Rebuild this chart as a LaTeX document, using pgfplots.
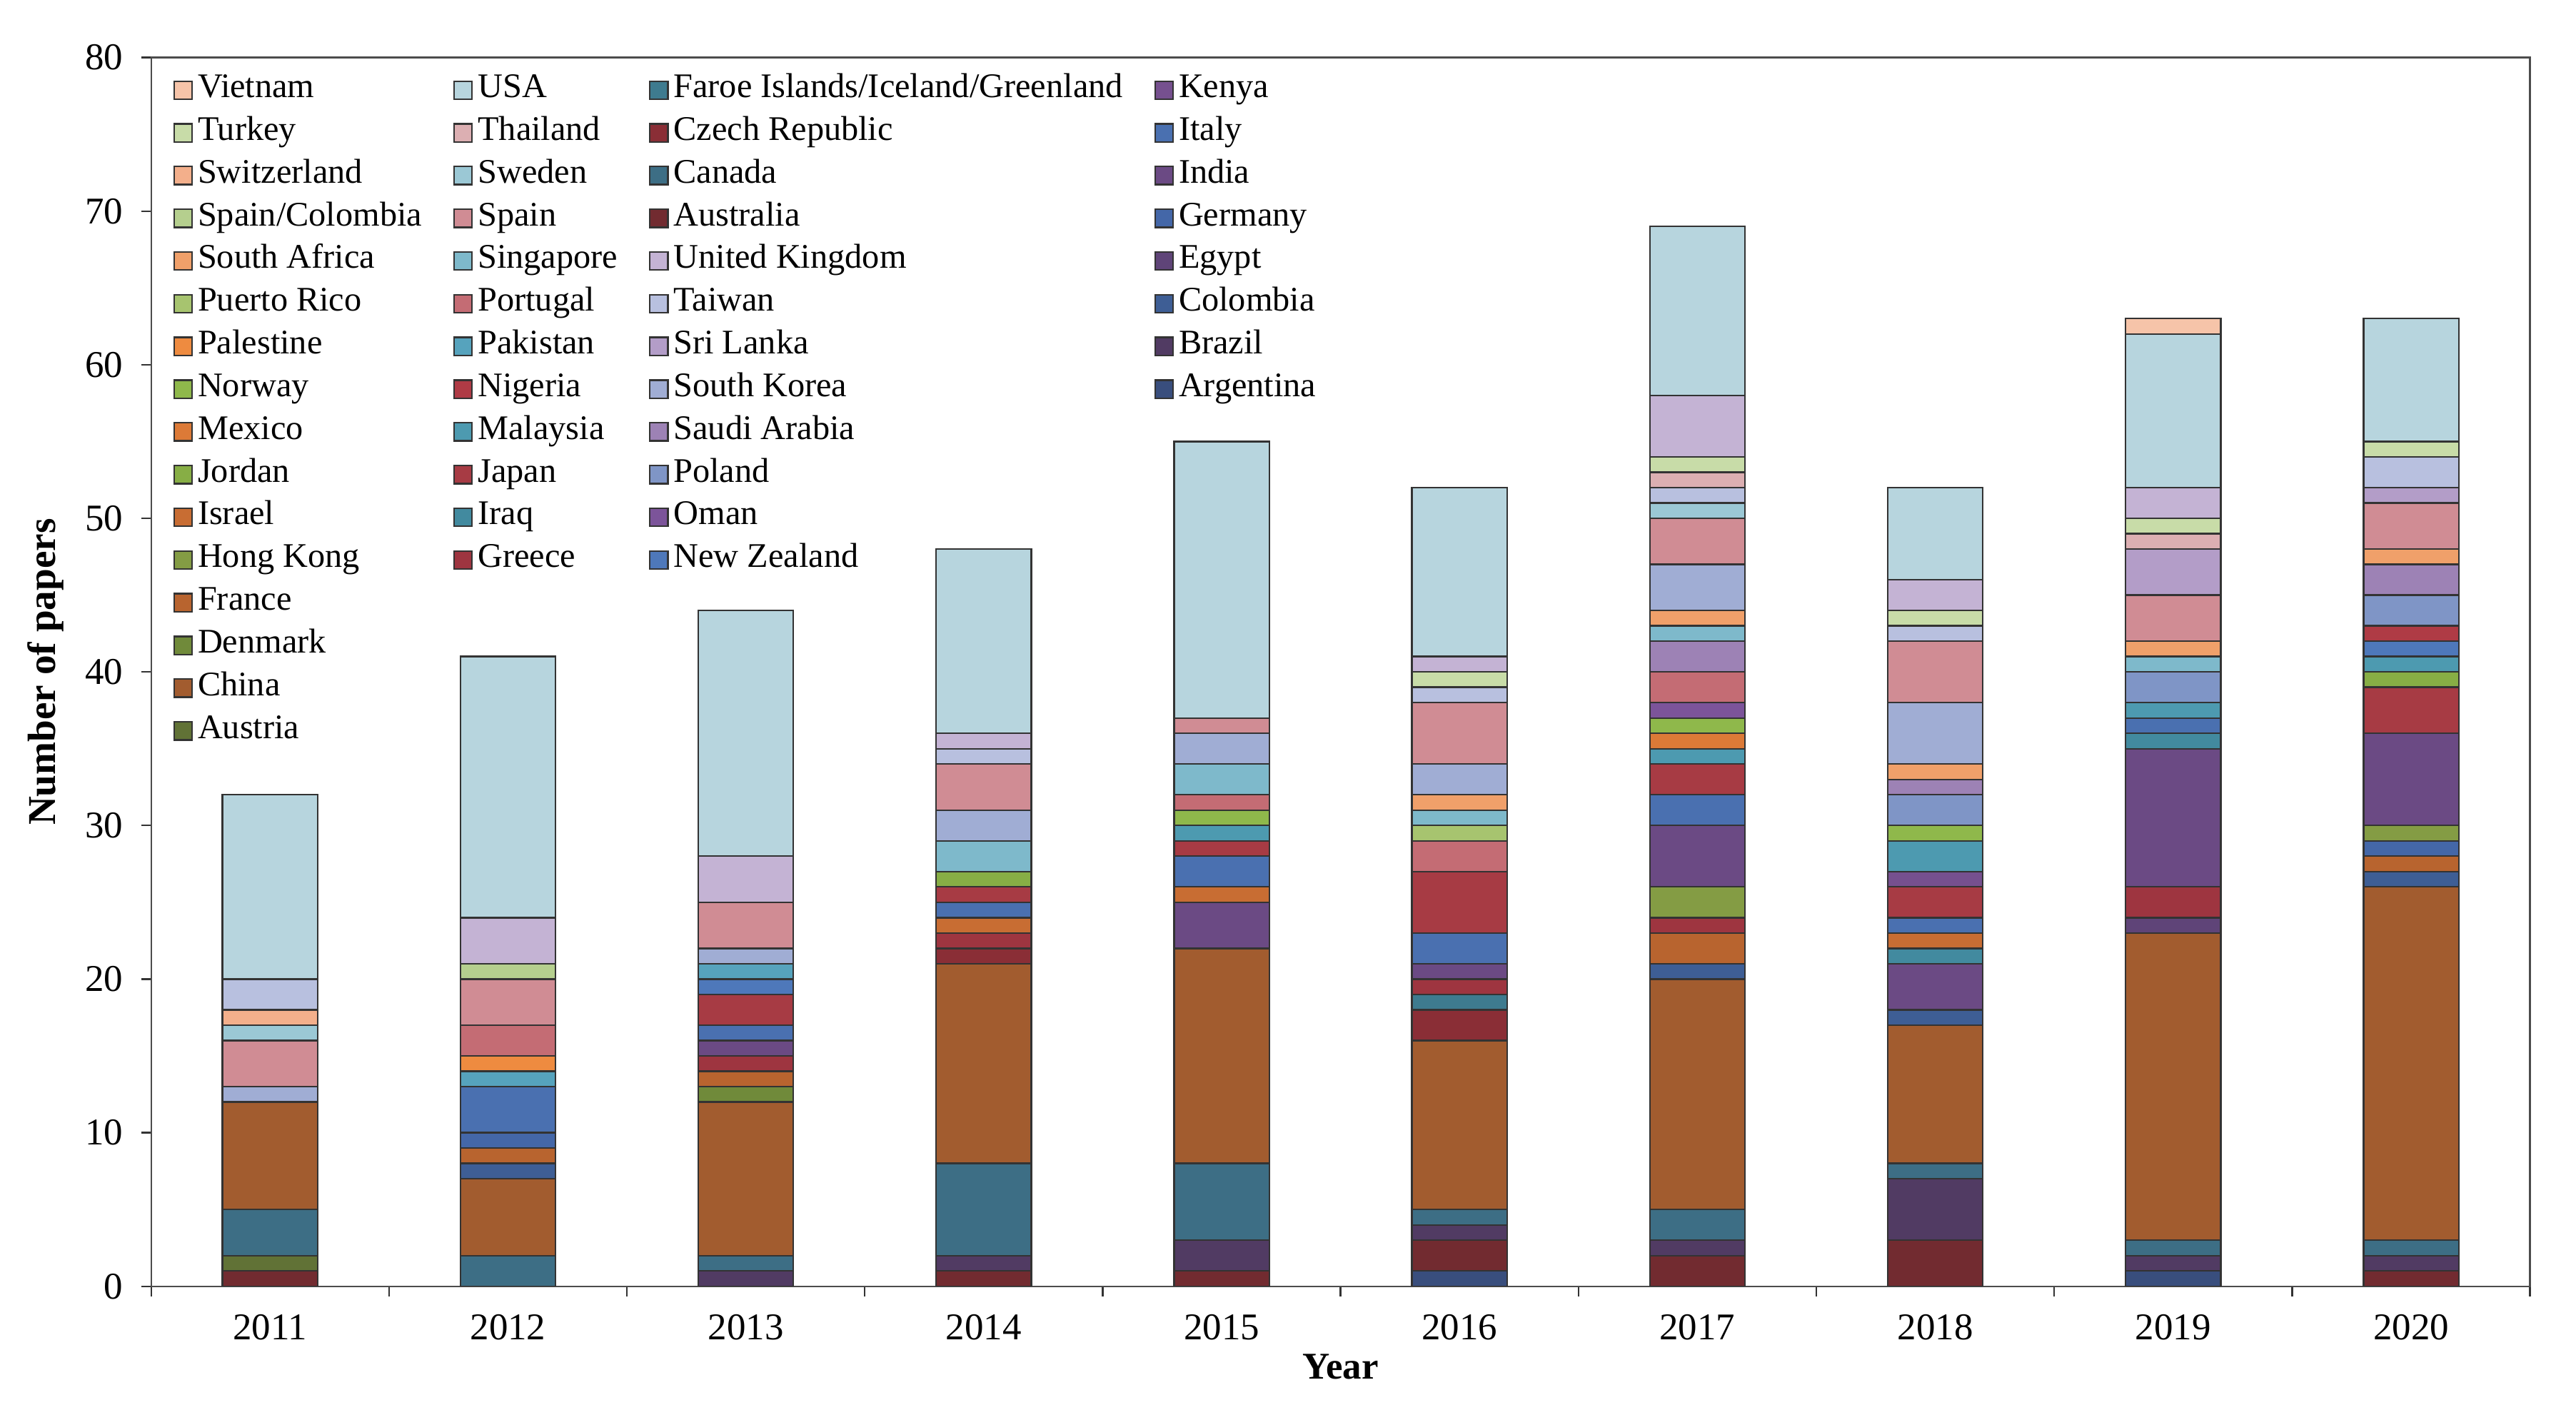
\documentclass[border=0pt]{standalone}
\usepackage{fontspec}
\setmainfont{Liberation Serif}
\usepackage{pgfplots}
\pgfplotsset{compat=1.18}

% colours per country (Excel-like shades)
\definecolor{cArg}{HTML}{394E7D}\definecolor{cAus}{HTML}{722B30}\definecolor{cAut}{HTML}{617236}
\definecolor{cBra}{HTML}{513B63}\definecolor{cCan}{HTML}{3D6E85}\definecolor{cChi}{HTML}{A25C2F}
\definecolor{cCol}{HTML}{3E5E95}\definecolor{cCze}{HTML}{8A2E36}\definecolor{cDen}{HTML}{708A3A}
\definecolor{cEgy}{HTML}{5F4478}\definecolor{cFar}{HTML}{3E7B8F}\definecolor{cFra}{HTML}{B8642F}
\definecolor{cGer}{HTML}{4467A8}\definecolor{cGre}{HTML}{9E3540}\definecolor{cHK}{HTML}{849C44}
\definecolor{cInd}{HTML}{6B4A84}\definecolor{cIrq}{HTML}{428A9F}\definecolor{cIsr}{HTML}{C86D33}
\definecolor{cIta}{HTML}{4A70B0}\definecolor{cJap}{HTML}{A73B44}\definecolor{cJor}{HTML}{87AE45}
\definecolor{cKen}{HTML}{76508F}\definecolor{cMal}{HTML}{4D9AB0}\definecolor{cMex}{HTML}{DC7A37}
\definecolor{cNZ}{HTML}{4E78BA}\definecolor{cNig}{HTML}{AF3B45}\definecolor{cNor}{HTML}{8FB84B}
\definecolor{cOma}{HTML}{7C549A}\definecolor{cPak}{HTML}{56A3BD}\definecolor{cPal}{HTML}{EE8B40}
\definecolor{cPol}{HTML}{7F95C6}\definecolor{cPor}{HTML}{C46C74}\definecolor{cPR}{HTML}{A7C46F}
\definecolor{cSA}{HTML}{9D82B5}\definecolor{cSin}{HTML}{7EB9CB}\definecolor{cSAf}{HTML}{F0A06A}
\definecolor{cSK}{HTML}{A0ADD4}\definecolor{cSpa}{HTML}{D08C94}\definecolor{cSpC}{HTML}{B5CF8E}
\definecolor{cSL}{HTML}{B39DC8}\definecolor{cSwe}{HTML}{9BC8D5}\definecolor{cSwi}{HTML}{F3AF8B}
\definecolor{cTai}{HTML}{B8C0DF}\definecolor{cTha}{HTML}{DCAFB2}\definecolor{cTur}{HTML}{C8DCA8}
\definecolor{cUK}{HTML}{C4B3D4}\definecolor{cUSA}{HTML}{B7D5DE}\definecolor{cVie}{HTML}{F6C4A9}

\pgfplotsset{
  sq legend/.style={legend image code/.code={%
    \draw[draw=black!80, line width=0.5pt, ##1] (0pt,-2.75pt) rectangle (5.5pt,2.75pt);}},
}
\newcommand{\leg}[2]{\addlegendimage{sq legend, fill=#1}\addlegendentry{#2}}
\newcommand{\noleg}{\addlegendimage{empty legend}\addlegendentry{}}

\begin{document}
\begin{tikzpicture}
\begin{axis}[
  name=ax,
  scale only axis, width=724pt, height=374pt,
  ybar stacked, bar width=0.4,
  xmin=-0.5, xmax=9.5, ymin=0, ymax=80,
  xtick={-0.5,0.5,...,9.5}, xticklabels={},
  extra x ticks={0,1,2,3,4,5,6,7,8,9},
  extra x tick labels={2011,2012,2013,2014,2015,2016,2017,2018,2019,2020},
  extra x tick style={major tick length=0pt},
  ytick={0,10,...,80},
  tick align=outside, major tick length=3pt,
  xtick pos=bottom, ytick pos=left,
  axis line style={draw=black!70, line width=0.5pt},
  tick style={draw=black!80, line width=0.5pt},
  /pgf/number format/assume math mode=true,
  tick label style={font=\fontsize{11.5}{13}\selectfont},
  xticklabel style={yshift=-5pt},
  yticklabel style={xshift=-2pt},
  every axis plot/.append style={draw=black!80, line width=0.5pt},
  xlabel={\textbf{Year}},
  ylabel={\textbf{Number of papers}},
  every axis x label/.style={at={(axis description cs:0.5,0)}, yshift=-24.5pt, anchor=center, font=\fontsize{11.5}{13}\selectfont},
  every axis y label/.style={at={(axis description cs:0,0.5)}, xshift=-32pt, rotate=90, anchor=center, font=\fontsize{12}{14}\selectfont},
  legend columns=4,
  legend cell align=left,
  legend style={at={(0,1)}, anchor=north west, xshift=6.5pt, yshift=-5pt,
    draw=none, fill=none, inner xsep=0pt, inner ysep=0pt,
    font=\fontsize{10.5}{12}\selectfont, row sep=3.5pt,
    nodes={inner xsep=1.5pt, inner ysep=0pt, text height=7pt, text depth=2.5pt},
    /tikz/every even column/.append style={column sep=8pt}},
]
% stacked in alphabetical order, years 2011..2020 at x=0..9
\addplot[fill=cArg, forget plot] coordinates {(0,0) (1,0) (2,0) (3,0) (4,0) (5,1) (6,0) (7,0) (8,1) (9,0)};
\addplot[fill=cAus, forget plot] coordinates {(0,1) (1,0) (2,0) (3,1) (4,1) (5,2) (6,2) (7,3) (8,0) (9,1)};
\addplot[fill=cAut, forget plot] coordinates {(0,1) (1,0) (2,0) (3,0) (4,0) (5,0) (6,0) (7,0) (8,0) (9,0)};
\addplot[fill=cBra, forget plot] coordinates {(0,0) (1,0) (2,1) (3,1) (4,2) (5,1) (6,1) (7,4) (8,1) (9,1)};
\addplot[fill=cCan, forget plot] coordinates {(0,3) (1,2) (2,1) (3,6) (4,5) (5,1) (6,2) (7,1) (8,1) (9,1)};
\addplot[fill=cChi, forget plot] coordinates {(0,7) (1,5) (2,10) (3,13) (4,14) (5,11) (6,15) (7,9) (8,20) (9,23)};
\addplot[fill=cCol, forget plot] coordinates {(0,0) (1,1) (2,0) (3,0) (4,0) (5,0) (6,1) (7,1) (8,0) (9,1)};
\addplot[fill=cCze, forget plot] coordinates {(0,0) (1,0) (2,0) (3,1) (4,0) (5,2) (6,0) (7,0) (8,0) (9,0)};
\addplot[fill=cDen, forget plot] coordinates {(0,0) (1,0) (2,1) (3,0) (4,0) (5,0) (6,0) (7,0) (8,0) (9,0)};
\addplot[fill=cEgy, forget plot] coordinates {(0,0) (1,0) (2,0) (3,0) (4,0) (5,0) (6,0) (7,0) (8,1) (9,0)};
\addplot[fill=cFar, forget plot] coordinates {(0,0) (1,0) (2,0) (3,0) (4,0) (5,1) (6,0) (7,0) (8,0) (9,0)};
\addplot[fill=cFra, forget plot] coordinates {(0,0) (1,1) (2,1) (3,0) (4,0) (5,0) (6,2) (7,0) (8,0) (9,1)};
\addplot[fill=cGer, forget plot] coordinates {(0,0) (1,1) (2,0) (3,0) (4,0) (5,0) (6,0) (7,0) (8,0) (9,1)};
\addplot[fill=cGre, forget plot] coordinates {(0,0) (1,0) (2,1) (3,1) (4,0) (5,1) (6,1) (7,0) (8,2) (9,0)};
\addplot[fill=cHK, forget plot] coordinates {(0,0) (1,0) (2,0) (3,0) (4,0) (5,0) (6,2) (7,0) (8,0) (9,1)};
\addplot[fill=cInd, forget plot] coordinates {(0,0) (1,0) (2,1) (3,0) (4,3) (5,1) (6,4) (7,3) (8,9) (9,6)};
\addplot[fill=cIrq, forget plot] coordinates {(0,0) (1,0) (2,0) (3,0) (4,0) (5,0) (6,0) (7,1) (8,1) (9,0)};
\addplot[fill=cIsr, forget plot] coordinates {(0,0) (1,0) (2,0) (3,1) (4,1) (5,0) (6,0) (7,1) (8,0) (9,0)};
\addplot[fill=cIta, forget plot] coordinates {(0,0) (1,3) (2,1) (3,1) (4,2) (5,2) (6,2) (7,1) (8,1) (9,0)};
\addplot[fill=cJap, forget plot] coordinates {(0,0) (1,0) (2,2) (3,1) (4,1) (5,4) (6,2) (7,2) (8,0) (9,3)};
\addplot[fill=cJor, forget plot] coordinates {(0,0) (1,0) (2,0) (3,1) (4,0) (5,0) (6,0) (7,0) (8,0) (9,1)};
\addplot[fill=cKen, forget plot] coordinates {(0,0) (1,0) (2,0) (3,0) (4,0) (5,0) (6,0) (7,1) (8,0) (9,0)};
\addplot[fill=cMal, forget plot] coordinates {(0,0) (1,0) (2,0) (3,0) (4,1) (5,0) (6,1) (7,2) (8,1) (9,1)};
\addplot[fill=cMex, forget plot] coordinates {(0,0) (1,0) (2,0) (3,0) (4,0) (5,0) (6,1) (7,0) (8,0) (9,0)};
\addplot[fill=cNZ, forget plot] coordinates {(0,0) (1,0) (2,1) (3,0) (4,0) (5,0) (6,0) (7,0) (8,0) (9,1)};
\addplot[fill=cNig, forget plot] coordinates {(0,0) (1,0) (2,0) (3,0) (4,0) (5,0) (6,0) (7,0) (8,0) (9,1)};
\addplot[fill=cNor, forget plot] coordinates {(0,0) (1,0) (2,0) (3,0) (4,1) (5,0) (6,1) (7,1) (8,0) (9,0)};
\addplot[fill=cOma, forget plot] coordinates {(0,0) (1,0) (2,0) (3,0) (4,0) (5,0) (6,1) (7,0) (8,0) (9,0)};
\addplot[fill=cPak, forget plot] coordinates {(0,0) (1,1) (2,1) (3,0) (4,0) (5,0) (6,0) (7,0) (8,0) (9,0)};
\addplot[fill=cPal, forget plot] coordinates {(0,0) (1,1) (2,0) (3,0) (4,0) (5,0) (6,0) (7,0) (8,0) (9,0)};
\addplot[fill=cPol, forget plot] coordinates {(0,0) (1,0) (2,0) (3,0) (4,0) (5,0) (6,0) (7,2) (8,2) (9,2)};
\addplot[fill=cPor, forget plot] coordinates {(0,0) (1,2) (2,0) (3,0) (4,1) (5,2) (6,2) (7,0) (8,0) (9,0)};
\addplot[fill=cPR, forget plot] coordinates {(0,0) (1,0) (2,0) (3,0) (4,0) (5,1) (6,0) (7,0) (8,0) (9,0)};
\addplot[fill=cSA, forget plot] coordinates {(0,0) (1,0) (2,0) (3,0) (4,0) (5,0) (6,2) (7,1) (8,0) (9,2)};
\addplot[fill=cSin, forget plot] coordinates {(0,0) (1,0) (2,0) (3,2) (4,2) (5,1) (6,1) (7,0) (8,1) (9,0)};
\addplot[fill=cSAf, forget plot] coordinates {(0,0) (1,0) (2,0) (3,0) (4,0) (5,1) (6,1) (7,1) (8,1) (9,1)};
\addplot[fill=cSK, forget plot] coordinates {(0,1) (1,0) (2,1) (3,2) (4,2) (5,2) (6,3) (7,4) (8,0) (9,0)};
\addplot[fill=cSpa, forget plot] coordinates {(0,3) (1,3) (2,3) (3,3) (4,1) (5,4) (6,3) (7,4) (8,3) (9,3)};
\addplot[fill=cSpC, forget plot] coordinates {(0,0) (1,1) (2,0) (3,0) (4,0) (5,0) (6,0) (7,0) (8,0) (9,0)};
\addplot[fill=cSL, forget plot] coordinates {(0,0) (1,0) (2,0) (3,0) (4,0) (5,0) (6,0) (7,0) (8,3) (9,1)};
\addplot[fill=cSwe, forget plot] coordinates {(0,1) (1,0) (2,0) (3,0) (4,0) (5,0) (6,1) (7,0) (8,0) (9,0)};
\addplot[fill=cSwi, forget plot] coordinates {(0,1) (1,0) (2,0) (3,0) (4,0) (5,0) (6,0) (7,0) (8,0) (9,0)};
\addplot[fill=cTai, forget plot] coordinates {(0,2) (1,0) (2,0) (3,1) (4,0) (5,1) (6,1) (7,1) (8,0) (9,2)};
\addplot[fill=cTha, forget plot] coordinates {(0,0) (1,0) (2,0) (3,0) (4,0) (5,0) (6,1) (7,0) (8,1) (9,0)};
\addplot[fill=cTur, forget plot] coordinates {(0,0) (1,0) (2,0) (3,0) (4,0) (5,1) (6,1) (7,1) (8,1) (9,1)};
\addplot[fill=cUK, forget plot] coordinates {(0,0) (1,3) (2,3) (3,1) (4,0) (5,1) (6,4) (7,2) (8,2) (9,0)};
\addplot[fill=cUSA, forget plot] coordinates {(0,12) (1,17) (2,16) (3,12) (4,18) (5,11) (6,11) (7,6) (8,10) (9,8)};
\addplot[fill=cVie, forget plot] coordinates {(0,0) (1,0) (2,0) (3,0) (4,0) (5,0) (6,0) (7,0) (8,1) (9,0)};

% legend, row by row (4 columns)
\leg{cVie}{Vietnam}\leg{cUSA}{USA}\leg{cFar}{Faroe Islands/Iceland/Greenland}\leg{cKen}{Kenya}
\leg{cTur}{Turkey}\leg{cTha}{Thailand}\leg{cCze}{Czech Republic}\leg{cIta}{Italy}
\leg{cSwi}{Switzerland}\leg{cSwe}{Sweden}\leg{cCan}{Canada}\leg{cInd}{India}
\leg{cSpC}{Spain/Colombia}\leg{cSpa}{Spain}\leg{cAus}{Australia}\leg{cGer}{Germany}
\leg{cSAf}{South Africa}\leg{cSin}{Singapore}\leg{cUK}{United Kingdom}\leg{cEgy}{Egypt}
\leg{cPR}{Puerto Rico}\leg{cPor}{Portugal}\leg{cTai}{Taiwan}\leg{cCol}{Colombia}
\leg{cPal}{Palestine}\leg{cPak}{Pakistan}\leg{cSL}{Sri Lanka}\leg{cBra}{Brazil}
\leg{cNor}{Norway}\leg{cNig}{Nigeria}\leg{cSK}{South Korea}\leg{cArg}{Argentina}
\leg{cMex}{Mexico}\leg{cMal}{Malaysia}\leg{cSA}{Saudi Arabia}\noleg
\leg{cJor}{Jordan}\leg{cJap}{Japan}\leg{cPol}{Poland}\noleg
\leg{cIsr}{Israel}\leg{cIrq}{Iraq}\leg{cOma}{Oman}\noleg
\leg{cHK}{Hong Kong}\leg{cGre}{Greece}\leg{cNZ}{New Zealand}\noleg
\leg{cFra}{France}\noleg\noleg\noleg
\leg{cDen}{Denmark}\noleg\noleg\noleg
\leg{cChi}{China}\noleg\noleg\noleg
\leg{cAut}{Austria}\noleg\noleg\noleg
\end{axis}
\pgfresetboundingbox
\path ([xshift=-46pt,yshift=-37.5pt]ax.south west) rectangle ([xshift=14pt,yshift=17.5pt]ax.north east);
\end{tikzpicture}
\end{document}
